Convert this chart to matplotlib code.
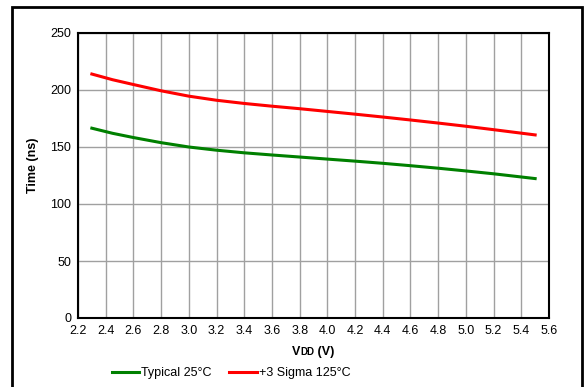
import matplotlib.pyplot as plt
import matplotlib.patches as patches
from matplotlib.offsetbox import TextArea, HPacker, AnchoredOffsetbox
import numpy as np

plt.rcParams['font.family'] = ['Liberation Sans', 'DejaVu Sans']

vdd = [2.3, 2.45, 2.6, 2.8, 3.0, 3.2, 3.4, 3.6, 3.8, 4.0, 4.2, 4.4, 4.6, 4.8, 5.0, 5.2, 5.5]
typical_25c = [166.5, 162.0, 158.3, 153.8, 150.0, 147.2, 144.9, 143.0, 141.2, 139.4, 137.6, 135.7, 133.6, 131.4, 129.0, 126.5, 122.3]
sigma3_125c = [214.0, 209.0, 204.8, 199.3, 194.6, 191.0, 188.2, 185.8, 183.6, 181.2, 178.8, 176.3, 173.7, 171.0, 168.2, 165.2, 160.6]

x_ticks = np.arange(2.2, 5.61, 0.2)
y_ticks = [0, 50, 100, 150, 200, 250]

fig = plt.figure(figsize=(5.86, 3.87), dpi=100)
ax = fig.add_axes([78 / 586, 1 - 318 / 387, (549 - 78) / 586, (318 - 33) / 387])

ax.plot(vdd, typical_25c, color="#008000", lw=2.2, label="Typical 25°C")
ax.plot(vdd, sigma3_125c, color="#ff0000", lw=2.2, label="+3 Sigma 125°C")

ax.set_xlim(2.2, 5.6)
ax.set_ylim(0, 250)
ax.set_xticks(x_ticks)
ax.set_xticklabels([f"{t:.1f}" for t in x_ticks])
ax.set_yticks(y_ticks)
ax.grid(True, color="#a0a0a0", lw=1.0)
ax.set_axisbelow(True)
ax.tick_params(length=0, labelsize=9, pad=5)
for s in ax.spines.values():
    s.set_linewidth(1.5)
    s.set_color("black")

ax.set_ylabel("Time (ns)", fontsize=9, fontweight="bold")
ax.yaxis.set_label_coords(-0.083, 0.535)

# x label: V + small caps DD + (V)
bold9 = dict(fontsize=9, fontweight="bold")
parts = [TextArea("V", textprops=bold9),
         TextArea("DD", textprops=dict(fontsize=7, fontweight="bold")),
         TextArea(" (V)", textprops=bold9)]
xlab = HPacker(children=parts, align="baseline", pad=0, sep=0)
fig.add_artist(AnchoredOffsetbox(loc="center", child=xlab, frameon=False, pad=0, borderpad=0,
                                 bbox_to_anchor=((78 + 549) / 2 / 586, 1 - 352 / 387),
                                 bbox_transform=fig.transFigure))

fig.legend(loc="center", bbox_to_anchor=(231 / 586, 1 - 373 / 387), ncol=2,
           frameon=False, fontsize=9, handlelength=2.2, handletextpad=0.15, columnspacing=1.4,
           borderpad=0)

frame = patches.Rectangle((12 / 586, -0.05), 570 / 586, 1 - 7 / 387 + 0.05, transform=fig.transFigure,
                          fill=False, lw=2, edgecolor="black", clip_on=False)
fig.patches.append(frame)

fig.savefig("out.png", dpi=100)
